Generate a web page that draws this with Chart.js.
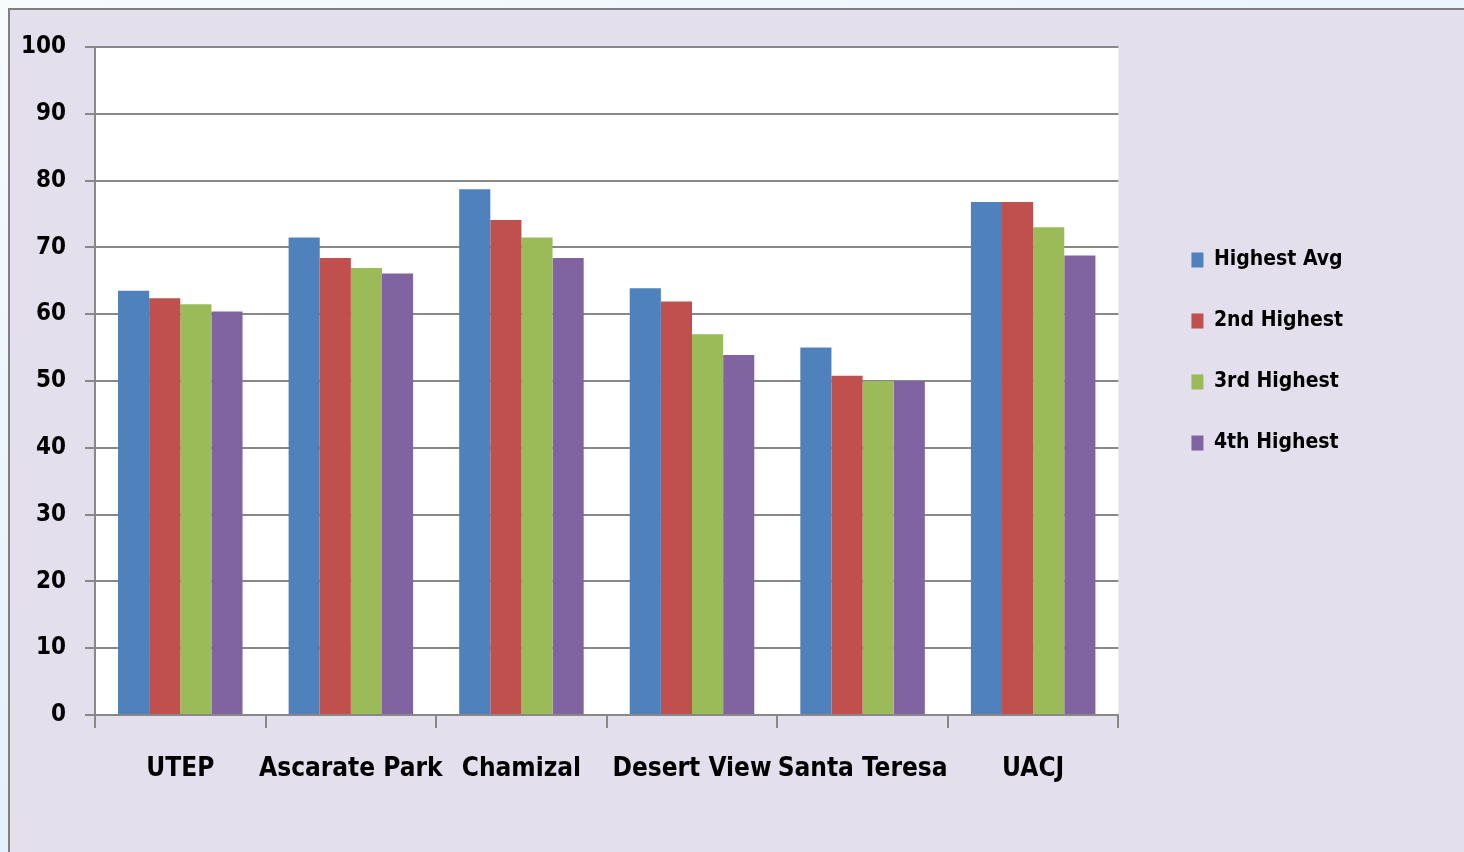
<!DOCTYPE html>
<html lang="en">
<head>
  <meta charset="UTF-8" />
  <title>Highest Averages by Site</title>
  <script src="https://cdn.jsdelivr.net/npm/chart.js"></script>
  <style>
    html, body {
      margin: 0;
      padding: 0;
      width: 1464px;
      height: 852px;
      overflow: hidden;
      background: linear-gradient(160deg, #f7fbfe 0%, #e3f1fb 60%, #cfe6f8 100%);
    }
    .frame {
      position: absolute;
      left: 8px;
      top: 8px;
      width: 1470px;
      height: 860px;
      background: #e4dfec;
      border-top: 2px solid #7f7f7f;
      border-left: 2px solid #7f7f7f;
    }
    .wrap {
      position: absolute;
      left: 0;
      top: 0;
      width: 1464px;
      height: 852px;
    }
  </style>
</head>
<body>
  <div class="frame"></div>
  <div class="wrap">
    <canvas id="chart"></canvas>
  </div>

  <script>
    const sites = ['UTEP', 'Ascarate Park', 'Chamizal', 'Desert View', 'Santa Teresa', 'UACJ'];
    const seriesNames = ['Highest Avg', '2nd Highest', '3rd Highest', '4th Highest'];
    const highestAvg = [63.5, 71.5, 78.7, 63.9, 55.0, 76.8];
    const secondHighest = [62.4, 68.4, 74.1, 61.9, 50.8, 76.8];
    const thirdHighest = [61.5, 66.9, 71.5, 57.0, 50.0, 73.0];
    const fourthHighest = [60.4, 66.1, 68.4, 53.9, 50.0, 68.8];
    const colors = ['#4f81bd', '#c0504d', '#9bbb59', '#8064a2'];

    const font = "'DejaVu Sans Condensed', 'DejaVu Sans', sans-serif";

    // white plot area on the lavender background
    const plotBackground = {
      id: 'plotBackground',
      beforeDraw(chart) {
        const { ctx, chartArea: a } = chart;
        ctx.save();
        ctx.fillStyle = '#ffffff';
        ctx.fillRect(a.left, a.top, a.right - a.left, a.bottom - a.top);
        ctx.restore();
      }
    };

    const values = [highestAvg, secondHighest, thirdHighest, fourthHighest];

    new Chart(document.getElementById('chart'), {
      type: 'bar',
      data: {
        labels: sites,
        datasets: seriesNames.map((name, i) => ({
          label: name,
          data: values[i],
          backgroundColor: colors[i],
          borderWidth: 0,
          categoryPercentage: 0.73,
          barPercentage: 1.0
        }))
      },
      options: {
        responsive: true,
        maintainAspectRatio: false,
        animation: false,
        layout: {
          padding: { top: 47, left: 0, bottom: 0, right: 111 }
        },
        plugins: {
          tooltip: { enabled: false },
          legend: {
            position: 'right',
            align: 'start',
            // empty title only pushes the entries down
            title: { display: true, text: '', padding: { top: 0, bottom: 148 } },
            labels: {
              color: '#000',
              boxWidth: 12,
              boxHeight: 15,
              padding: 40,
              font: { family: font, size: 21, weight: 'bold' }
            }
          }
        },
        scales: {
          x: {
            grid: {
              display: true,
              drawOnChartArea: false,
              drawTicks: true,
              tickLength: 13,
              color: '#888',
              lineWidth: 2,
              offset: true
            },
            border: { display: true, color: '#888', width: 2 },
            ticks: {
              color: '#000',
              padding: 26,
              maxRotation: 0,
              autoSkip: false,
              font: { family: font, size: 26, weight: 'bold' }
            },
            afterFit(s) { s.height = 137; }
          },
          y: {
            min: 0,
            max: 100,
            grid: {
              color: '#888',
              lineWidth: 2,
              tickLength: 10
            },
            border: { display: true, color: '#888', width: 2 },
            ticks: {
              stepSize: 10,
              color: '#000',
              padding: 19,
              font: { family: font, size: 24, weight: 'bold' }
            },
            afterFit(s) { s.width = 95; }
          },
          spacer: {
            position: 'right',
            display: true,
            grid: { display: false },
            border: { display: false },
            ticks: { display: false },
            afterFit(s) { s.width = 33; }
          }
        }
      },
      plugins: [plotBackground]
    });
  </script>
</body>
</html>
